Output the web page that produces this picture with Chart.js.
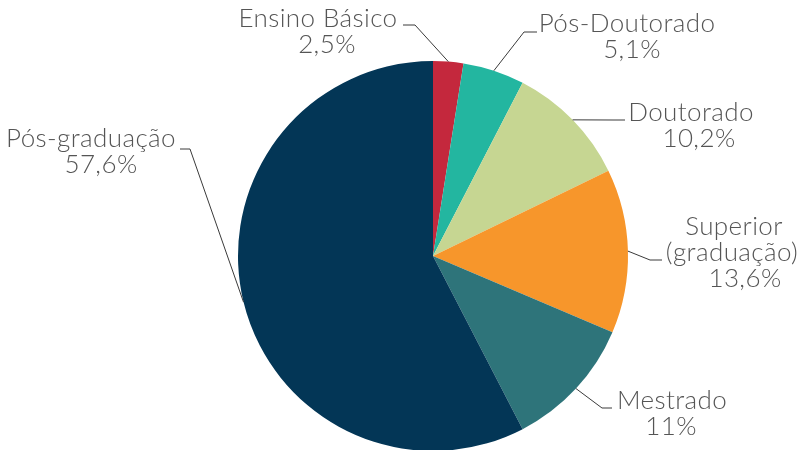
<!DOCTYPE html>
<html>
<head>
<meta charset="utf-8">
<script src="https://cdn.jsdelivr.net/npm/chart.js@4"></script>
<style>
  html, body { margin: 0; padding: 0; background: #fff; }
  #wrap { width: 803px; height: 450px; }
</style>
</head>
<body>
<div id="wrap"><canvas id="chart" width="803" height="450"></canvas></div>
<script>
// data
const categories = ["Ensino Básico", "Pós-Doutorado", "Doutorado", "Superior (graduação)", "Mestrado", "Pós-graduação"];
const shares = [2.5, 5.1, 10.2, 13.6, 11, 57.6];
const sliceColors = ["#c4283d", "#23b6a0", "#c6d692", "#f7962b", "#2e747a", "#033656"];

// label placement (text block centre, first baseline, connector elbow/end)
const labelLines = [["Ensino Básico"], ["Pós-Doutorado"], ["Doutorado"], ["Superior", "(graduação)"], ["Mestrado"], ["Pós-graduação"]];
const labelLayout = [
  { cx: 318, y: 27, dx: [0, 9], elbow: [415, 25], end: 403 },
  { cx: 627, y: 32, dx: [0, 5], elbow: [524, 32], end: 537 },
  { cx: 691, y: 121, dx: [0, 8], elbow: [613, 120], end: 625 },
  { cx: 734, y: 235, dx: [0, -2, 11], elbow: [650, 260], end: 662 },
  { cx: 672, y: 409, dx: [0, -1], elbow: [602, 408], end: 612 },
  { cx: 91, y: 147, dx: [0, 10], elbow: [190, 149], end: 180 }
];

const fmt = v => String(v).replace(".", ",") + "%";

const pieLabels = {
  id: "pieLabels",
  afterDatasetsDraw(chart) {
    const ctx = chart.ctx;
    const arcs = chart.getDatasetMeta(0).data;
    ctx.save();
    arcs.forEach((arc, i) => {
      const p = arc.getProps(["x", "y", "startAngle", "endAngle", "outerRadius"], true);
      const mid = (p.startAngle + p.endAngle) / 2;
      const sx = p.x + Math.cos(mid) * p.outerRadius;
      const sy = p.y + Math.sin(mid) * p.outerRadius;
      const lay = labelLayout[i];
      ctx.strokeStyle = "#3a3a3a";
      ctx.lineWidth = 1;
      ctx.beginPath();
      ctx.moveTo(sx, sy);
      ctx.lineTo(lay.elbow[0], lay.elbow[1]);
      ctx.lineTo(lay.end, lay.elbow[1]);
      ctx.stroke();

      const lines = labelLines[i].concat([fmt(shares[i])]);
      ctx.fillStyle = "#555555";
      ctx.font = "300 26px Lato";
      ctx.letterSpacing = "0.4px";
      ctx.textAlign = "center";
      ctx.textBaseline = "alphabetic";
      lines.forEach((t, k) => {
        ctx.fillText(t, lay.cx + (lay.dx[k] || 0), lay.y + k * 26);
      });
    });
    ctx.restore();
  }
};

new Chart(document.getElementById("chart").getContext("2d"), {
  type: "pie",
  data: {
    labels: categories,
    datasets: [{
      data: shares,
      backgroundColor: sliceColors,
      borderWidth: 0,
      radius: 195
    }]
  },
  options: {
    responsive: false,
    animation: false,
    layout: { padding: { left: 238, right: 175, top: 62, bottom: 0 } },
    plugins: {
      legend: { display: false },
      tooltip: { enabled: false }
    }
  },
  plugins: [pieLabels]
});
</script>
</body>
</html>
